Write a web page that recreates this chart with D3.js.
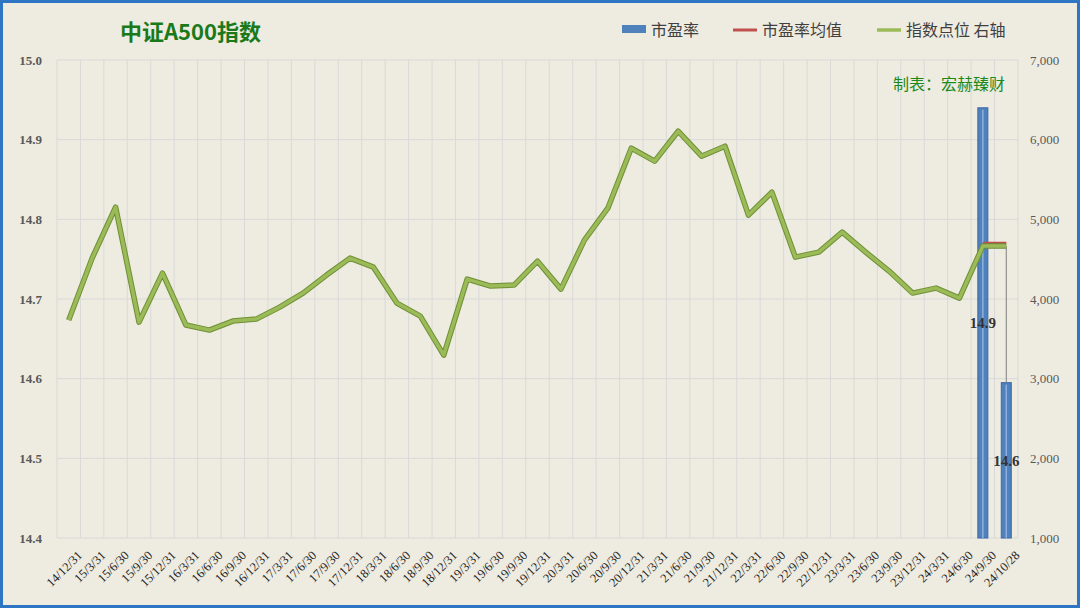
<!DOCTYPE html>
<html><head><meta charset="utf-8">
<script src="https://cdn.jsdelivr.net/npm/d3@7"></script>
<style>body{margin:0;background:#fff}svg{display:block}</style>
</head><body><svg id="c" width="1080" height="608"></svg>
<script>
const categories=["14/12/31","15/3/31","15/6/30","15/9/30","15/12/31","16/3/31","16/6/30","16/9/30","16/12/31","17/3/31","17/6/30","17/9/30","17/12/31","18/3/31","18/6/30","18/9/30","18/12/31","19/3/31","19/6/30","19/9/30","19/12/31","20/3/31","20/6/30","20/9/30","20/12/31","21/3/31","21/6/30","21/9/30","21/12/31","22/3/31","22/6/30","22/9/30","22/12/31","23/3/31","23/6/30","23/9/30","23/12/31","24/3/31","24/6/30","24/9/30","24/10/28"];
const indexPoints=[3735,4513,5153,3710,4325,3673,3610,3723,3748,3898,4074,4300,4513,4400,3949,3785,3296,4250,4162,4175,4475,4124,4739,5140,5893,5730,6106,5793,5918,5053,5341,4526,4589,4839,4589,4350,4074,4137,4011,4664,4664];
const peCats=["24/9/30","24/10/28"];
const peValues=[14.94,14.595];
const peLabels=["14.9","14.6"];
const peMean=[14.77,14.77];
const leftTicks=[14.4,14.5,14.6,14.7,14.8,14.9,15.0];
const rightTicks=[1000,2000,3000,4000,5000,6000,7000];

const svg=d3.select("#c");
svg.append("rect").attr("x",1.5).attr("y",1.5).attr("width",1077).attr("height",605).attr("fill","#eeebe0").attr("stroke","#2e75c4").attr("stroke-width",3);
const L=57,R=1018,T=60,B=538;
const x=d3.scaleBand().domain(categories).range([L,R]);
const yL=d3.scaleLinear().domain([14.4,15.0]).range([B,T]);
const yR=d3.scaleLinear().domain([1000,7000]).range([B,T]);
const serif="'Liberation Serif','Times New Roman',serif";
// grid
const g=svg.append("g");
g.selectAll(".h").data(leftTicks).join("line").attr("x1",L).attr("x2",R).attr("y1",d=>yL(d)).attr("y2",d=>yL(d)).attr("stroke","#d9d9d9");
g.selectAll(".v").data(categories.concat([null])).join("line").attr("x1",(d,i)=>L+i*x.step()).attr("x2",(d,i)=>L+i*x.step()).attr("y1",T).attr("y2",B).attr("stroke","#d9d9d9");
// axes
const ax=svg.append("g").attr("transform",`translate(${L},0)`).call(d3.axisLeft(yL).tickValues(leftTicks).tickFormat(d3.format(".1f")).tickSize(0).tickPadding(15));
ax.select(".domain").remove();
ax.selectAll("text").attr("font-family",serif).attr("font-size",13).attr("font-weight","bold").attr("fill","#595959");
const ar=svg.append("g").attr("transform",`translate(${R},0)`).call(d3.axisRight(yR).tickValues(rightTicks).tickSize(0).tickPadding(12));
ar.select(".domain").remove();
ar.selectAll("text").attr("font-family",serif).attr("font-size",13).attr("fill","#595959");
const ab=svg.append("g").attr("transform",`translate(0,${B})`).call(d3.axisBottom(x).tickSize(0).tickPadding(0));
ab.select(".domain").remove();
ab.selectAll("text").attr("font-family",serif).attr("font-size",12.5).attr("fill","#222")
  .attr("text-anchor","end").attr("transform","translate(8,12) rotate(-45)").attr("dy","0.7em");
// bars
const bw=10;
svg.selectAll(".bar").data(peValues).join("rect").attr("x",(d,i)=>x(peCats[i])+x.bandwidth()/2-bw/2).attr("width",bw)
  .attr("y",d=>yL(d)).attr("height",d=>B-yL(d)).attr("fill","#4f81bd").attr("stroke","#3a68a8").attr("stroke-width",1);
svg.selectAll(".bl").data(peValues).join("line").attr("x1",(d,i)=>x(peCats[i])+x.bandwidth()/2).attr("x2",(d,i)=>x(peCats[i])+x.bandwidth()/2)
  .attr("y1",d=>yL(d)+2).attr("y2",B).attr("stroke","#8fb0dc").attr("stroke-width",1.5);
// leader line
const lx=x(peCats[1])+x.bandwidth()/2;
svg.append("line").attr("x1",lx).attr("x2",lx).attr("y1",yR(indexPoints[40])).attr("y2",yL(peValues[1])).attr("stroke","#7f7f7f").attr("stroke-width",1);
// mean line
const cx=d=>x(d)+x.bandwidth()/2;
svg.append("path").datum(peMean).attr("fill","none").attr("stroke","#c0504d").attr("stroke-width",3)
  .attr("d",d3.line().x((d,i)=>cx(peCats[i])).y(d=>yL(d)));
// index line
const line=d3.line().x((d,i)=>cx(categories[i])).y(d=>yR(d));
svg.append("path").datum(indexPoints).attr("fill","none").attr("stroke","#6f8f34").attr("stroke-width",5.5).attr("stroke-linejoin","round").attr("d",line);
svg.append("path").datum(indexPoints).attr("fill","none").attr("stroke","#9bbb59").attr("stroke-width",3.5).attr("stroke-linejoin","round").attr("d",line);
// labels
svg.selectAll(".pl").data(peLabels).join("text").attr("x",(d,i)=>cx(peCats[i])).attr("y",(d,i)=>i===0?328:466)
  .attr("text-anchor","middle").attr("font-family",serif).attr("font-weight","bold").attr("font-size",15).attr("fill","#333").text(d=>d);
// title
svg.append("text").attr("x",120).attr("y",40).attr("font-family","'Noto Sans CJK SC',serif").attr("font-weight","bold").attr("font-size",22).attr("fill","#1a7a1a").text("中证A500指数");
svg.append("text").attr("x",1005).attr("y",90).attr("text-anchor","end").attr("font-family","'Noto Sans CJK SC',sans-serif").attr("font-size",16).attr("fill","#1a8a1a").text("制表：宏赫臻财");
// legend
const lg=svg.append("g").attr("font-family","'Noto Sans CJK SC',sans-serif").attr("font-size",16).attr("fill","#404040");
lg.append("rect").attr("x",622).attr("y",25).attr("width",24).attr("height",8).attr("fill","#4f81bd");
lg.append("text").attr("x",651).attr("y",36).text("市盈率");
lg.append("line").attr("x1",733).attr("x2",757).attr("y1",30).attr("y2",30).attr("stroke","#c0504d").attr("stroke-width",3);
lg.append("text").attr("x",762).attr("y",36).text("市盈率均值");
lg.append("line").attr("x1",877).attr("x2",901).attr("y1",30).attr("y2",30).attr("stroke","#9bbb59").attr("stroke-width",3.5);
lg.append("text").attr("x",906).attr("y",36).text("指数点位 右轴");
</script></body></html>
